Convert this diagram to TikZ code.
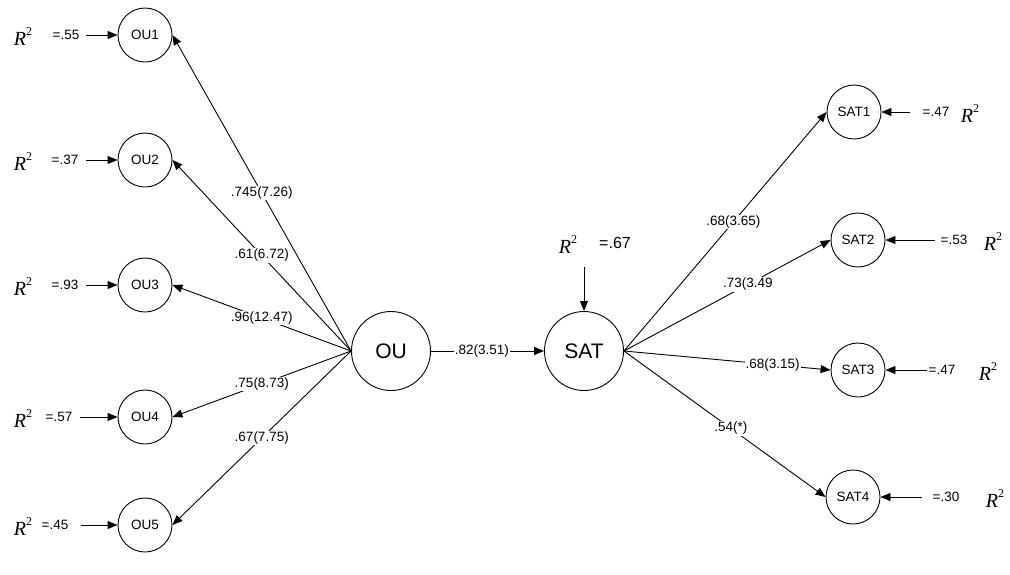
\documentclass[tikz,border=0pt]{standalone}
\usepackage{fontspec}
\setmainfont{Liberation Sans}
\newfontfamily\tnr{Liberation Serif}
\usetikzlibrary{arrows.meta}
\newcommand{\rsqtext}{\textit{R}\raisebox{0.5em}{\fontsize{12}{12}\selectfont 2}}
\begin{document}
\begin{tikzpicture}[x=1pt,y=-1pt,
  small/.style={circle,draw,line width=0.9pt,minimum size=54pt,inner sep=0pt,font=\fontsize{13.5}{15}\selectfont},
  big/.style={circle,draw,line width=0.9pt,minimum size=79pt,inner sep=0pt,font=\fontsize{21}{24}\selectfont},
  conn/.style={line width=0.9pt,-{Triangle[length=10pt,width=8pt]}},
  coef/.style={fill=white,inner sep=1pt,font=\fontsize{13.5}{15}\selectfont},
  rsq/.style={inner sep=0pt,font=\tnr\fontsize{20}{22}\selectfont},
  val/.style={inner sep=0pt,font=\fontsize{13.5}{15}\selectfont}]
\useasboundingbox (0,0) rectangle (1010,574);

% main latent nodes
\node[big] (ou) at (391,351) {OU};
\node[big] (sat) at (584,351) {SAT};

% indicators
\node[small] (ou1) at (145,35) {OU1};
\node[small] (ou2) at (145,160) {OU2};
\node[small] (ou3) at (145,285) {OU3};
\node[small] (ou4) at (145,417) {OU4};
\node[small] (ou5) at (145,525) {OU5};
\node[small] (sat1) at (854,112) {SAT1};
\node[small] (sat2) at (858,240) {SAT2};
\node[small] (sat3) at (858,370) {SAT3};
\node[small] (sat4) at (853,497) {SAT4};

% loadings
\draw[conn] (ou.west) -- node[coef]{.745(7.26)} (ou1.east);
\draw[conn] (ou.west) -- node[coef]{.61(6.72)} (ou2.east);
\draw[conn] (ou.west) -- node[coef]{.96(12.47)} (ou3.east);
\draw[conn] (ou.west) -- node[coef]{.75(8.73)} (ou4.east);
\draw[conn] (ou.west) -- node[coef]{.67(7.75)} (ou5.east);
\draw[conn] (ou) -- node[coef,pos=.45]{.82(3.51)} (sat);
\draw[conn] (sat.east) -- node[coef,pos=.54]{.68(3.65)} (sat1.west);
\draw[conn] (sat.east) -- node[coef,pos=.6]{.73(3.49} (sat2.west);
\draw[conn] (sat.east) -- node[coef,pos=.72]{.68(3.15)} (sat3.west);
\draw[conn] (sat.east) -- node[coef,pos=.53]{.54(*)} (sat4.west);

% R^2 left
\node[rsq] (r1) at (23,37) {\rsqtext};
\node[val] (v1) at (66,35) {=.55};
\coordinate (a1) at (86,35);
\draw[conn] (a1) -- (ou1);
\node[rsq] (r2) at (23,162) {\rsqtext};
\node[val] (v2) at (65,160) {=.37};
\coordinate (a2) at (86,160);
\draw[conn] (a2) -- (ou2);
\node[rsq] (r3) at (23,287) {\rsqtext};
\node[val] (v3) at (65,285) {=.93};
\coordinate (a3) at (86,285);
\draw[conn] (a3) -- (ou3);
\node[rsq] (r4) at (23,419) {\rsqtext};
\node[val] (v4) at (59,417) {=.57};
\coordinate (a4) at (80,417);
\draw[conn] (a4) -- (ou4);
\node[rsq] (r5) at (23,527) {\rsqtext};
\node[val] (v5) at (55,525) {=.45};
\coordinate (a5) at (81,525);
\draw[conn] (a5) -- (ou5);

% R^2 right
\node[rsq] (r6) at (970,114) {\rsqtext};
\node[val] (v6) at (936,112) {=.47};
\coordinate (a6) at (910,112);
\draw[conn] (a6) -- (sat1);
\node[rsq] (r7) at (993,242) {\rsqtext};
\node[val] (v7) at (954,240) {=.53};
\coordinate (a7) at (935,240);
\draw[conn] (a7) -- (sat2);
\node[rsq] (r8) at (988,372) {\rsqtext};
\node[val] (v8) at (942,370) {=.47};
\coordinate (a8) at (927,370);
\draw[conn] (a8) -- (sat3);
\node[rsq] (r9) at (995,499) {\rsqtext};
\node[val] (v9) at (946,497) {=.30};
\coordinate (a9) at (922,497);
\draw[conn] (a9) -- (sat4);

% R^2 of SAT
\node[rsq] (r10) at (568,245) {\rsqtext};
\node[val,font=\fontsize{16}{18}\selectfont] (v10) at (615,243) {=.67};
\coordinate (a10) at (584,267);
\draw[conn] (a10) -- (sat);
\end{tikzpicture}
\end{document}
